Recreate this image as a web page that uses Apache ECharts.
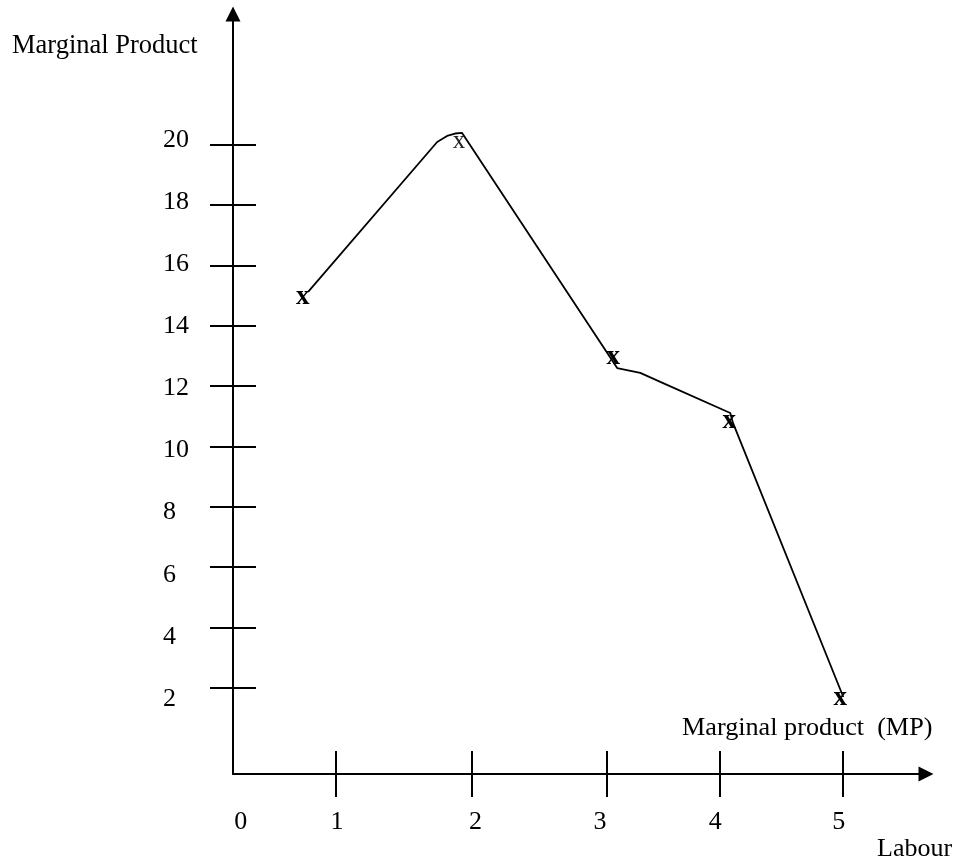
<!DOCTYPE html>
<html><head><meta charset="utf-8">
<script src="https://cdn.jsdelivr.net/npm/echarts@6/dist/echarts.min.js"></script>
<style>html,body{margin:0;padding:0;background:#fff}#c{width:960px;height:865px}</style>
</head><body><div id="c"></div>
<script>
// Hand-drawn MP curve (Labour, Marginal Product)
const curveLabour = [0.796, 1.748, 1.821, 1.880, 1.932, 3.076, 3.246, 3.394, 3.910, 3.930, 4.744];
const curveMP     = [15.12, 20.09, 20.29, 20.37, 20.39, 12.60, 12.44, 12.14, 11.11, 10.78, 1.70];
// Plotted "x" points
const pointLabour = [0.757, 1.910, 3.047, 3.903, 4.721];
const pointMP     = [14.95, 20.1, 12.95, 10.85, 1.65];
// Axis ticks and labels
const xTickValues  = [1, 2, 3, 3.83, 4.74];
const xLabelValues = [0.30, 1.01, 2.03, 2.95, 3.80, 4.71];
const xLabelTexts  = ['0', '1', '2', '3', '4', '5'];
const yTickValues  = [2, 4, 6, 8, 10, 12, 14, 16, 18, 20];
const yLabelValues = [2, 4, 6, 8, 10, 12, 14, 16, 18, 20];
const texts = { yName: 'Marginal Product', curveName: 'Marginal product  (MP)', xName: 'Labour' };

const FONT = '"Liberation Serif", "Times New Roman", serif';
const X_MIN = 0.242, X_MAX = 5.354, Y_MIN = -0.852, Y_MAX = 24.33;

const chart = echarts.init(document.getElementById('c'), null, { renderer: 'canvas' });
const lineStyle = { color: '#000', width: 2 };
const noSplit = { show: false };

const option = {
  animation: false,
  backgroundColor: '#fff',
  grid: { left: 233, right: 34, top: 14, bottom: 91, containLabel: false, outerBoundsMode: 'none' },
  xAxis: [
    {
      type: 'value', min: X_MIN, max: X_MAX, position: 'bottom',
      axisLine: { show: true, onZero: false, lineStyle, symbol: ['none', 'triangle'], symbolSize: [15, 15] },
      axisTick: { show: false },
      splitLine: noSplit,
      axisLabel: {
        show: true, customValues: xLabelValues, margin: 35,
        fontFamily: FONT, fontSize: 26, color: '#000',
        formatter: function (v) {
          let best = 0, d = Infinity;
          xLabelValues.forEach((p, i) => { if (Math.abs(p - v) < d) { d = Math.abs(p - v); best = i; } });
          return xLabelTexts[best];
        }
      }
    },
    {
      type: 'value', min: X_MIN, max: X_MAX, position: 'bottom', offset: -23,
      axisLine: { show: false, onZero: false },
      axisTick: { show: true, customValues: xTickValues, length: 46, lineStyle },
      axisLabel: { show: false },
      splitLine: noSplit
    }
  ],
  yAxis: [
    {
      type: 'value', min: Y_MIN, max: Y_MAX, position: 'left',
      axisLine: { show: true, onZero: false, lineStyle, symbol: ['none', 'triangle'], symbolSize: [15, 15] },
      axisTick: { show: false },
      axisLabel: { show: false },
      splitLine: noSplit
    },
    {
      type: 'value', min: Y_MIN, max: Y_MAX, position: 'left', offset: -23,
      axisLine: { show: false, onZero: false },
      axisTick: { show: true, customValues: yTickValues, length: 46, lineStyle },
      axisLabel: { show: false },
      splitLine: noSplit
    },
    {
      type: 'value', min: -0.415, max: 24.057, position: 'left',
      axisLine: { show: false, onZero: false },
      axisTick: { show: false },
      splitLine: noSplit,
      axisLabel: {
        show: true, customValues: yLabelValues, margin: 70, align: 'left',
        fontFamily: FONT, fontSize: 26, color: '#000'
      }
    }
  ],
  series: [
    {
      type: 'line', xAxisIndex: 0, yAxisIndex: 0,
      data: curveLabour.map((x, i) => [x, curveMP[i]]),
      symbol: 'none', smooth: false,
      lineStyle: { color: '#000', width: 1.8 }
    },
    {
      type: 'scatter', xAxisIndex: 0, yAxisIndex: 0,
      data: pointLabour.map((x, i) => [x, pointMP[i]]),
      symbolSize: 1, itemStyle: { color: '#fff', opacity: 0 },
      label: {
        show: true, position: 'inside', color: '#000', opacity: 1,
        formatter: p => p.dataIndex === 1 ? '{n|x}' : '{b|x}',
        rich: {
          b: { fontFamily: FONT, fontSize: 27, fontWeight: 'bold', color: '#000' },
          n: { fontFamily: FONT, fontSize: 25, fontWeight: 'normal', color: '#222' }
        }
      }
    }
  ],
  graphic: [
    { type: 'text', x: 12, y: 46, style: { text: texts.yName, fontFamily: FONT, fontSize: 26.5, fill: '#000', align: 'left', verticalAlign: 'middle' } },
    { type: 'text', x: 682, y: 728, style: { text: texts.curveName, fontFamily: FONT, fontSize: 26.2, fill: '#000', align: 'left', verticalAlign: 'middle' } },
    { type: 'text', x: 877, y: 849, style: { text: texts.xName, fontFamily: FONT, fontSize: 26, fill: '#000', align: 'left', verticalAlign: 'middle' } }
  ]
};
chart.setOption(option);
</script>
</body></html>
